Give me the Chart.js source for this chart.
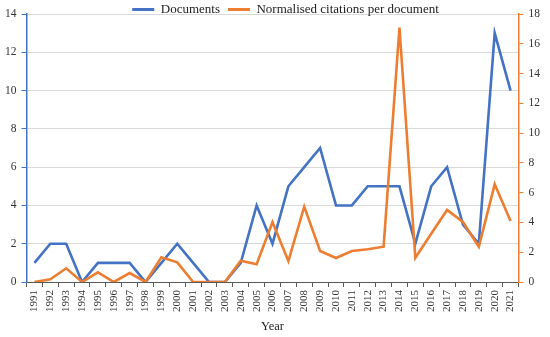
<!DOCTYPE html>
<html>
<head>
<meta charset="utf-8">
<script src="https://cdn.jsdelivr.net/npm/chart.js@4/dist/chart.umd.min.js"></script>
<style>
  html, body { margin: 0; padding: 0; background: #ffffff; }
  #wrap { width: 550px; height: 337px; position: relative; }
</style>
</head>
<body>
<div id="wrap"><canvas id="c" width="550" height="337"></canvas></div>
<script>
const years = ["1991","1992","1993","1994","1995","1996","1997","1998","1999","2000","2001","2002","2003","2004","2005","2006","2007","2008","2009","2010","2011","2012","2013","2014","2015","2016","2017","2018","2019","2020","2021"];
const documents = [1,2,2,0,1,1,1,0,1,2,1,0,0,1,4,2,5,6,7,4,4,5,5,5,2,5,6,3,2,13,10];
const normalisedCitations = [0,0.18,0.92,0,0.65,0,0.6,0,1.66,1.32,0,0,0,1.43,1.19,4.03,1.41,5.06,2.08,1.61,2.08,2.2,2.37,17.08,1.63,3.24,4.84,4.03,2.37,6.56,4.1];
const seriesNames = ["Documents", "Normalised citations per document"];
const leftTicks = {min: 0, max: 14, step: 2};
const rightTicks = {min: 0, max: 18, step: 2};

const BLUE = '#4472C4';
const ORANGE = '#ED7D31';
const SERIF = "'Liberation Serif', 'DejaVu Serif', serif";

// nudges the legend box (layout only, no data)
const legendNudge = {
  id: 'legendNudge',
  afterLayout(chart) {
    const lg = chart.legend;
    if (!lg) return;
    lg.left += 13; lg.right += 13;
    lg.top -= 5; lg.bottom += 8;
  }
};

new Chart(document.getElementById('c'), {
  type: 'line',
  data: {
    labels: years,
    datasets: [
      { label: seriesNames[0], data: documents, yAxisID: 'y', borderColor: BLUE, backgroundColor: BLUE,
        borderWidth: 2.6, pointRadius: 0, tension: 0, order: 1 },
      { label: seriesNames[1], data: normalisedCitations, yAxisID: 'y1', borderColor: ORANGE, backgroundColor: ORANGE,
        borderWidth: 2.6, pointRadius: 0, tension: 0, order: 0 }
    ]
  },
  plugins: [legendNudge],
  options: {
    responsive: false,
    animation: false,
    devicePixelRatio: 1,
    layout: { padding: { left: 0, right: 5, top: 0, bottom: 3 } },
    plugins: {
      tooltip: { enabled: false },
      legend: {
        display: true,
        position: 'top',
        maxHeight: 14,
        labels: {
          font: { family: SERIF, size: 13 },
          color: '#222',
          boxWidth: 22,
          boxHeight: 3,
          padding: 8,
          sort: (a, b) => a.datasetIndex - b.datasetIndex,
          generateLabels: (chart) => Chart.defaults.plugins.legend.labels.generateLabels(chart).map(l => Object.assign(l, { lineWidth: 0, fillStyle: l.strokeStyle }))
        }
      }
    },
    scales: {
      x: {
        type: 'category',
        offset: true,
        grid: { display: true, drawOnChartArea: false, offset: true, tickLength: 5, tickColor: '#595959', tickWidth: 1 },
        border: { display: true, color: '#595959', width: 1 },
        ticks: { font: { family: SERIF, size: 11 }, color: '#333', minRotation: 90, maxRotation: 90, padding: 3, autoSkip: false },
        title: { display: true, text: 'Year', font: { family: SERIF, size: 12.5 }, color: '#222', padding: { top: 4, bottom: 0 } }
      },
      y: {
        position: 'left',
        min: leftTicks.min, max: leftTicks.max,
        grid: { color: '#d9d9d9', lineWidth: 1, tickLength: 5, tickColor: BLUE },
        border: { display: true, color: BLUE, width: 1.5 },
        ticks: { stepSize: leftTicks.step, font: { family: SERIF, size: 11.5 }, color: '#333', padding: 5 }
      },
      y1: {
        position: 'right',
        min: rightTicks.min, max: rightTicks.max,
        grid: { drawOnChartArea: false, tickLength: 5, tickColor: ORANGE },
        border: { display: true, color: ORANGE, width: 1.5 },
        ticks: { stepSize: rightTicks.step, font: { family: SERIF, size: 11.5 }, color: '#333', padding: 5 }
      }
    }
  }
});
</script>
</body>
</html>
